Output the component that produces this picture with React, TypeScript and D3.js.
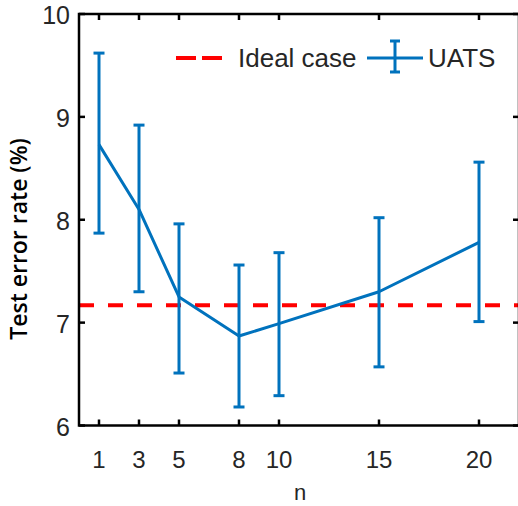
import * as d3 from 'd3';
import React, { useEffect, useRef } from 'react';

const nValues = [1, 3, 5, 8, 10, 15, 20];
const meanError = [8.73, 8.1, 7.25, 6.87, 6.99, 7.3, 7.78];
const upperError = [9.62, 8.92, 7.96, 7.56, 7.68, 8.02, 8.56];
const lowerError = [7.87, 7.3, 6.51, 6.18, 6.29, 6.57, 7.01];
const idealCase = 7.17;
const yTicks = [6, 7, 8, 9, 10];

const BLUE = '#0072BD';
const RED = '#FF0000';
const TEXT = '#262626';

const App: React.FC = () => {
  const svgRef = useRef<SVGSVGElement | null>(null);

  useEffect(() => {
    const svg = d3.select(svgRef.current);
    const width = 518;
    const height = 506;
    svg.selectAll('*').remove();

    const x = d3.scaleLinear().domain([0, 22]).range([79, 519]);
    const y = d3.scaleLinear().domain([6, 10]).range([425.5, 14]);
    const [x0, x1] = x.range();
    const [y0, y1] = y.range();

    svg.attr('width', width).attr('height', height).style('background', '#fff');

    // ideal case line
    svg
      .append('line')
      .attr('x1', x0)
      .attr('x2', x1)
      .attr('y1', y(idealCase))
      .attr('y2', y(idealCase))
      .attr('stroke', RED)
      .attr('stroke-width', 4)
      .attr('stroke-dasharray', '15,14');

    // error bars
    const capW = 5.5;
    const bars = svg.append('g').attr('stroke', BLUE).attr('stroke-width', 3);
    nValues.forEach((n, i) => {
      const cx = x(n);
      bars.append('line').attr('x1', cx).attr('x2', cx).attr('y1', y(upperError[i])).attr('y2', y(lowerError[i]));
      bars.append('line').attr('x1', cx - capW).attr('x2', cx + capW).attr('y1', y(upperError[i])).attr('y2', y(upperError[i]));
      bars.append('line').attr('x1', cx - capW).attr('x2', cx + capW).attr('y1', y(lowerError[i])).attr('y2', y(lowerError[i]));
    });

    const line = d3
      .line<number>()
      .x((_, i) => x(nValues[i]))
      .y((d) => y(d));

    svg
      .append('path')
      .datum(meanError)
      .attr('fill', 'none')
      .attr('stroke', BLUE)
      .attr('stroke-width', 3)
      .attr('stroke-linejoin', 'round')
      .attr('d', line);

    // axes box with inward ticks
    const tickLen = 6;
    const box = svg.append('g').attr('stroke', '#000').attr('stroke-width', 2.5);
    box.append('rect').attr('x', x0).attr('y', y1).attr('width', x1 - x0).attr('height', y0 - y1).attr('fill', 'none');
    nValues.forEach((n) => {
      box.append('line').attr('x1', x(n)).attr('x2', x(n)).attr('y1', y0).attr('y2', y0 - tickLen);
      box.append('line').attr('x1', x(n)).attr('x2', x(n)).attr('y1', y1).attr('y2', y1 + tickLen);
    });
    yTicks.forEach((t) => {
      box.append('line').attr('x1', x0).attr('x2', x0 + tickLen).attr('y1', y(t)).attr('y2', y(t));
      box.append('line').attr('x1', x1).attr('x2', x1 - tickLen).attr('y1', y(t)).attr('y2', y(t));
    });

    const font = 'Liberation Sans, Arial, sans-serif';

    svg
      .append('g')
      .selectAll('text')
      .data(nValues)
      .join('text')
      .attr('x', (d) => x(d))
      .attr('y', 468)
      .attr('text-anchor', 'middle')
      .attr('font-family', font)
      .attr('font-size', 24)
      .attr('fill', TEXT)
      .text((d) => d);

    svg
      .append('g')
      .selectAll('text')
      .data(yTicks)
      .join('text')
      .attr('x', 70)
      .attr('y', (d) => y(d) + 10)
      .attr('text-anchor', 'end')
      .attr('font-family', font)
      .attr('font-size', 25)
      .attr('fill', TEXT)
      .text((d) => d);

    svg
      .append('text')
      .attr('x', 300)
      .attr('y', 500)
      .attr('text-anchor', 'middle')
      .attr('font-family', font)
      .attr('font-size', 22)
      .attr('fill', TEXT)
      .text('n');

    svg
      .append('text')
      .attr('transform', 'translate(27,239) rotate(-90)')
      .attr('text-anchor', 'middle')
      .attr('font-family', 'Open Sans, sans-serif')
      .attr('font-weight', 600)
      .attr('font-size', 23)
      .attr('fill', '#000')
      .text('Test error rate (%)');

    // legend
    const ly = 58;
    svg
      .append('line')
      .attr('x1', 176)
      .attr('x2', 223)
      .attr('y1', ly)
      .attr('y2', ly)
      .attr('stroke', RED)
      .attr('stroke-width', 4)
      .attr('stroke-dasharray', '20,6');
    svg
      .append('text')
      .attr('x', 238)
      .attr('y', ly + 9)
      .attr('font-family', font)
      .attr('font-size', 26)
      .attr('fill', TEXT)
      .text('Ideal case');
    const lg = svg.append('g').attr('stroke', BLUE).attr('stroke-width', 3);
    lg.append('line').attr('x1', 367).attr('x2', 423).attr('y1', ly).attr('y2', ly);
    lg.append('line').attr('x1', 395).attr('x2', 395).attr('y1', 41).attr('y2', 72);
    lg.append('line').attr('x1', 390).attr('x2', 400).attr('y1', 41).attr('y2', 41);
    lg.append('line').attr('x1', 390).attr('x2', 400).attr('y1', 72).attr('y2', 72);
    svg
      .append('text')
      .attr('x', 428)
      .attr('y', ly + 9)
      .attr('font-family', font)
      .attr('font-size', 26)
      .attr('fill', TEXT)
      .text('UATS');
  }, []);

  return (
    <div style={{ position: 'fixed', left: 0, top: 0, width: 518, height: 506 }}>
      <svg ref={svgRef} style={{ display: 'block' }}></svg>
    </div>
  );
};

export default App;
